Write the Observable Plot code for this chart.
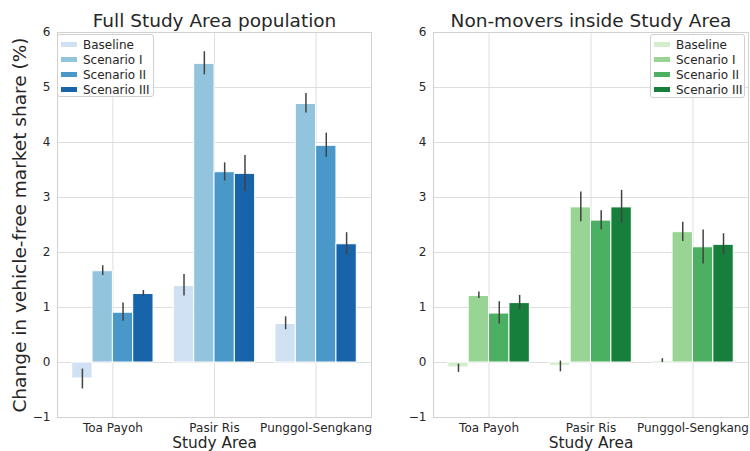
<!DOCTYPE html>
<html>
<head>
<meta charset="utf-8">
<script src="https://cdn.jsdelivr.net/npm/d3@7"></script>
<script src="https://cdn.jsdelivr.net/npm/@observablehq/plot@0.6"></script>
<style>
  html, body { margin: 0; padding: 0; background: white; }
  #wrap { position: relative; width: 750px; height: 451px; overflow: hidden; font-family: "DejaVu Sans", sans-serif; color: #262626; }
  .panel { position: absolute; top: 0; }
  .legend { position: absolute; border: 1px solid #d0d0d0; border-radius: 3px; background: rgba(255,255,255,0.85); box-sizing: border-box; padding: 2px 0 0 0; }
  .legend .row { height: 15px; display: flex; align-items: center; font-size: 12px; white-space: nowrap; }
  .legend .sw { display: inline-block; width: 16px; height: 5px; margin-right: 6px; }
</style>
</head>
<body>
<div id="wrap"></div>
<script>
const categories = ["Toa Payoh", "Pasir Ris", "Punggol-Sengkang"];
const scenarios = ["Baseline", "Scenario I", "Scenario II", "Scenario III"];
const blues = ["#cfe1f2", "#93c4de", "#4a98c9", "#1764ab"];
const greens = ["#d3eecd", "#98d594", "#4bb062", "#157f3b"];

// Full Study Area population
const fullBaseline = [-0.29, 1.39, 0.70];
const fullScenarioI = [1.66, 5.43, 4.70];
const fullScenarioII = [0.905, 3.46, 3.94];
const fullScenarioIII = [1.245, 3.43, 2.15];
const fullLow = [[-0.48, 1.21, 0.595], [1.58, 5.23, 4.535], [0.75, 3.30, 3.73], [1.20, 3.11, 1.96]];
const fullHigh = [[-0.12, 1.60, 0.83], [1.76, 5.65, 4.89], [1.08, 3.63, 4.17], [1.31, 3.765, 2.36]];

// Non-movers inside Study Area
const nonBaseline = [-0.09, -0.06, 0.03];
const nonScenarioI = [1.21, 2.82, 2.37];
const nonScenarioII = [0.89, 2.58, 2.095];
const nonScenarioIII = [1.08, 2.82, 2.14];
const nonLow = [[-0.18, -0.17, 0.0], [1.165, 2.56, 2.20], [0.70, 2.41, 1.79], [0.96, 2.53, 1.96]];
const nonHigh = [[-0.03, 0.025, 0.07], [1.28, 3.10, 2.55], [1.105, 2.76, 2.41], [1.22, 3.13, 2.34]];

const yTicks = [-1, 0, 1, 2, 3, 4, 5, 6];

function buildRows(series, low, high) {
  const rows = [];
  series.forEach((vals, j) => {
    vals.forEach((v, i) => {
      rows.push({cat: i, s: j, scenario: scenarios[j], value: v, lo: low[j][i], hi: high[j][i]});
    });
  });
  return rows;
}

const barW = 0.2;
function panel({rows, colors, title, width, ml, mr, ylabel}) {
  const marks = [
    Plot.ruleY(yTicks, {stroke: "#dedede", strokeWidth: 1}),
    Plot.ruleX([0, 1, 2], {stroke: "#dedede", strokeWidth: 1}),
    Plot.rectY(rows, {
      x1: d => d.cat - 0.4 + d.s * barW,
      x2: d => d.cat - 0.4 + (d.s + 1) * barW,
      y1: 0, y2: "value",
      fill: d => colors[d.s],
      stroke: "white", strokeWidth: 1
    }),
    Plot.ruleX(rows, {
      x: d => d.cat - 0.4 + (d.s + 0.5) * barW,
      y1: "lo", y2: "hi",
      stroke: "#424242", strokeWidth: 1.5
    }),
    Plot.frame({stroke: "#d2d2d2"}),
    Plot.text([title], {frameAnchor: "top", dy: -6, lineAnchor: "bottom", fontSize: 18.5, fill: "#262626"}),
    Plot.text(["Study Area"], {frameAnchor: "bottom", dy: 20, lineAnchor: "top", fontSize: 15.4, fill: "#262626"})
  ];
  if (ylabel) {
    marks.push(Plot.text([ylabel], {frameAnchor: "left", textAnchor: "middle", rotate: -90, dx: -37, fontSize: 18.5, fill: "#262626"}));
  }
  return Plot.plot({
    width, height: 451,
    marginLeft: ml, marginRight: mr, marginTop: 32, marginBottom: 34,
    style: {fontFamily: "DejaVu Sans", fontSize: "12px", color: "#262626", background: "white", overflow: "visible"},
    x: {domain: [-0.545, 2.545], ticks: [0, 1, 2], tickFormat: i => categories[i], tickSize: 0, tickPadding: 6, label: null},
    y: {domain: [-1, 6], ticks: yTicks, tickFormat: d => (d < 0 ? "\u2212" + (-d) : String(d)), tickSize: 0, tickPadding: 7, label: null},
    marks
  });
}

function legend(colors, left, top, w, h, textLeft) {
  const div = document.createElement("div");
  div.className = "legend";
  div.style.left = left + "px"; div.style.top = top + "px";
  div.style.width = w + "px"; div.style.height = h + "px";
  scenarios.forEach((s, j) => {
    const r = document.createElement("div");
    r.className = "row";
    r.style.paddingLeft = "3px";
    const sw = document.createElement("span");
    sw.className = "sw"; sw.style.background = colors[j];
    sw.style.marginRight = textLeft + "px";
    r.appendChild(sw);
    r.appendChild(document.createTextNode(s));
    div.appendChild(r);
  });
  return div;
}

const wrap = document.getElementById("wrap");
const left = panel({
  rows: buildRows([fullBaseline, fullScenarioI, fullScenarioII, fullScenarioIII], fullLow, fullHigh),
  colors: blues, title: "Full Study Area population", width: 380, ml: 57, mr: 9,
  ylabel: "Change in vehicle-free market share (%)"
});
left.classList.add("panel"); left.style.left = "0px";
const right = panel({
  rows: buildRows([nonBaseline, nonScenarioI, nonScenarioII, nonScenarioIII], nonLow, nonHigh),
  colors: greens, title: "Non-movers inside Study Area", width: 370, ml: 53, mr: 2
});
right.classList.add("panel"); right.style.left = "380px";
wrap.appendChild(left);
wrap.appendChild(right);
wrap.appendChild(legend(blues, 57, 34, 97, 63, 6));
wrap.appendChild(legend(greens, 650, 34, 95, 64, 6));
</script>
</body>
</html>
